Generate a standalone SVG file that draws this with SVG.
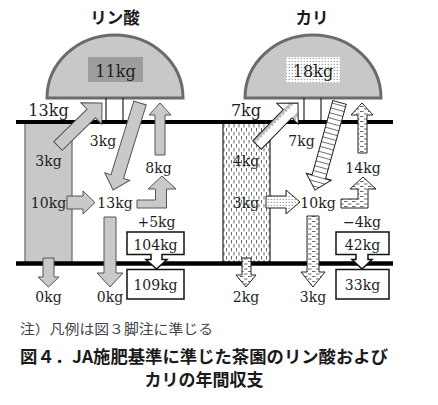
<svg xmlns="http://www.w3.org/2000/svg" width="438" height="405" viewBox="0 0 438 405">
<style>
.t{font-family:"DejaVu Serif","Liberation Serif",serif;font-size:14px;fill:#1e1e1e;text-anchor:middle}
.tb{font-size:16px}
.jt{font-family:"Noto Sans CJK JP","Noto Sans",sans-serif;font-weight:bold;fill:#1a1a1a}
.dome{fill:#c8c8c8;stroke:#6b6b6b;stroke-width:3}
.ga{fill:#c9c9c9;stroke:#555;stroke-width:1}
.wa{stroke:#222;stroke-width:1}
.stem{stroke:#222;stroke-width:1.2}
.gl{stroke:#000}
.box{fill:#fff;stroke:#111;stroke-width:1.5}
</style>
<defs>
<pattern id="dots" width="3" height="3" patternUnits="userSpaceOnUse"><rect width="3" height="3" fill="#fff"/><circle cx="1.2" cy="1.2" r="0.55" fill="#555"/></pattern>
<pattern id="vdash" width="5" height="8" patternUnits="userSpaceOnUse"><rect width="5" height="8" fill="#fff"/><line x1="1.5" y1="0" x2="1.5" y2="3.5" stroke="#444" stroke-width="0.8"/><line x1="4" y1="4" x2="4" y2="7.5" stroke="#444" stroke-width="0.8"/></pattern>
<pattern id="hdash" width="8" height="5" patternUnits="userSpaceOnUse"><rect width="8" height="5" fill="#fff"/><line x1="0" y1="1.5" x2="3.5" y2="1.5" stroke="#444" stroke-width="0.8"/><line x1="4" y1="4" x2="7.5" y2="4" stroke="#444" stroke-width="0.8"/></pattern>
<pattern id="ladder" width="5" height="40" y="-20" patternUnits="userSpaceOnUse"><rect width="5" height="40" fill="#fff"/><line x1="2.5" y1="0" x2="2.5" y2="40" stroke="#333" stroke-width="0.7"/></pattern>
<pattern id="ticks" width="4" height="12" y="-6" patternUnits="userSpaceOnUse"><rect width="4" height="12" fill="#fff"/><line x1="1" y1="0" x2="1" y2="4" stroke="#333" stroke-width="0.7"/><line x1="3" y1="0" x2="3" y2="2.5" stroke="#333" stroke-width="0.7"/></pattern>
</defs>
<rect width="438" height="405" fill="#fff"/>

<g id="title-P"><text class="jt" x="115" y="24" font-size="16.5" text-anchor="middle">リン酸</text></g>
<g id="title-K"><text class="jt" x="312" y="24" font-size="16.5" text-anchor="middle">カリ</text></g>

<g id="dome-P">
<path class="dome" d="M47,98 A68,63 0 0 1 183,98 Z"/>
<rect x="88" y="57" width="55" height="25" fill="#9d9d9d"/>
<text class="t tb" x="115.5" y="77">11kg</text>
</g>
<g id="dome-K">
<path class="dome" d="M245,98 A68,63 0 0 1 381,98 Z"/>
<rect x="286" y="57" width="54" height="26" fill="url(#dots)"/>
<text class="t tb" x="313" y="77">18kg</text>
</g>

<g id="stems">
<line class="stem" x1="106" y1="98" x2="106" y2="121"/>
<line class="stem" x1="123" y1="98" x2="123" y2="121"/>
<line class="stem" x1="304" y1="98" x2="304" y2="121"/>
<line class="stem" x1="321" y1="98" x2="321" y2="121"/>
</g>

<g id="col-P"><rect x="25" y="122" width="47" height="141" fill="#c8c8c8" stroke="#666" stroke-width="1.2"/></g>
<g id="col-K"><rect x="223" y="122" width="47" height="141" fill="url(#vdash)" stroke="#222" stroke-width="1.2"/></g>

<g id="ground">
<line class="gl" x1="16" y1="122" x2="393" y2="122" stroke-width="4"/>
<line class="gl" x1="16" y1="263.5" x2="393" y2="263.5" stroke-width="4.5"/>
</g>

<g id="connectors">
<polygon class="ga" points="0,-6 46.5,-6 46.5,-15 61.5,0 46.5,15 46.5,6 0,6" transform="translate(58,146) rotate(-44.3)"/>
<polygon class="ga" points="0,-6.5 77,-6.5 77,-13 91,0 77,13 77,6.5 0,6.5" transform="translate(140,103) rotate(107.2)"/>
<polygon class="ga" points="155,155 155,115 149,115 160,103 171,115 165,115 165,155"/>
<polygon class="ga" points="67,196 83,196 83,191 95,202.5 83,214 83,209 67,209"/>
<polygon class="ga" points="137,200 155.5,200 155.5,189 148,189 162,176 176,189 166.5,189 166.5,208 137,208"/>
<polygon class="ga" points="104,217 116,217 116,273 123,273 110,287 97,273 104,273"/>
<polygon class="ga" points="43,258 54,258 54,277 59,277 48.5,287 38,277 43,277"/>

<polygon class="wa" fill="url(#ticks)" points="0,-6 43.7,-6 43.7,-15 58.7,0 43.7,15 43.7,6 0,6" transform="translate(257,145) rotate(-45.7)"/>
<polygon class="wa" fill="url(#ladder)" points="0,-7 77,-7 77,-13 91,0 77,13 77,7 0,7" transform="translate(339.5,102.5) rotate(105.6)"/>
<polygon class="wa" fill="url(#hdash)" points="358,153 358,115 351,115 362,103 373,115 367,115 367,153"/>
<polygon class="wa" fill="url(#dots)" points="266,196 286,196 286,190 300,202 286,214 286,208 266,208"/>
<polygon class="wa" fill="url(#hdash)" points="341,199 358,199 358,189 350,189 363,177 376,189 368,189 368,208 341,208"/>
<polygon class="wa" fill="url(#hdash)" points="307,216 319,216 319,272 325,272 313,287 301,272 307,272"/>
<polygon class="wa" fill="url(#hdash)" points="242,258 251,258 251,275 256,275 246,287 236,275 242,275"/>
</g>

<g id="box-P">
<polygon class="box" points="127,232 184,232 184,254.5 162,254.5 162,259.5 167,259.5 156.5,269 146,259.5 151,259.5 151,254.5 127,254.5"/>
<rect class="box" x="127" y="269.5" width="57" height="29.5"/>
<text class="t" x="155.5" y="250">104kg</text>
<text class="t" x="155.5" y="290">109kg</text>
</g>
<g id="box-K">
<polygon class="box" points="336,232 389,232 389,254.5 368,254.5 368,259.5 372,259.5 362,269 352,259.5 356,259.5 356,254.5 336,254.5"/>
<rect class="box" x="336" y="269.5" width="53" height="29.5"/>
<text class="t" x="362.5" y="250">42kg</text>
<text class="t" x="362.5" y="290">33kg</text>
</g>

<g id="labels-P">
<text class="t tb" x="48.5" y="116">13kg</text>
<text class="t" x="48.5" y="166">3kg</text>
<text class="t" x="48.5" y="208">10kg</text>
<text class="t" x="103" y="146">3kg</text>
<text class="t" x="158.5" y="173">8kg</text>
<text class="t" x="115" y="208">13kg</text>
<text class="t" x="156.5" y="227">+5kg</text>
<text class="t" x="48.5" y="302">0kg</text>
<text class="t" x="110" y="302">0kg</text>
</g>
<g id="labels-K">
<text class="t tb" x="246" y="116">7kg</text>
<text class="t" x="246" y="166">4kg</text>
<text class="t" x="246" y="208">3kg</text>
<text class="t" x="301.5" y="146">7kg</text>
<text class="t" x="363" y="173">14kg</text>
<text class="t" x="318" y="208">10kg</text>
<text class="t" x="362" y="227">−4kg</text>
<text class="t" x="246" y="302">2kg</text>
<text class="t" x="313" y="302">3kg</text>
</g>

<g id="caption">
<text x="20" y="334" font-family="Noto Sans CJK JP,sans-serif" font-size="13.5" fill="#444" textLength="193" lengthAdjust="spacingAndGlyphs">注）凡例は図３脚注に準じる</text>
<text class="jt" x="20" y="362.5" font-size="17" textLength="368" lengthAdjust="spacingAndGlyphs">図４．JA施肥基準に準じた茶園のリン酸および</text>
<text class="jt" x="204" y="385.5" font-size="17" text-anchor="middle">カリの年間収支</text>
</g>
</svg>
